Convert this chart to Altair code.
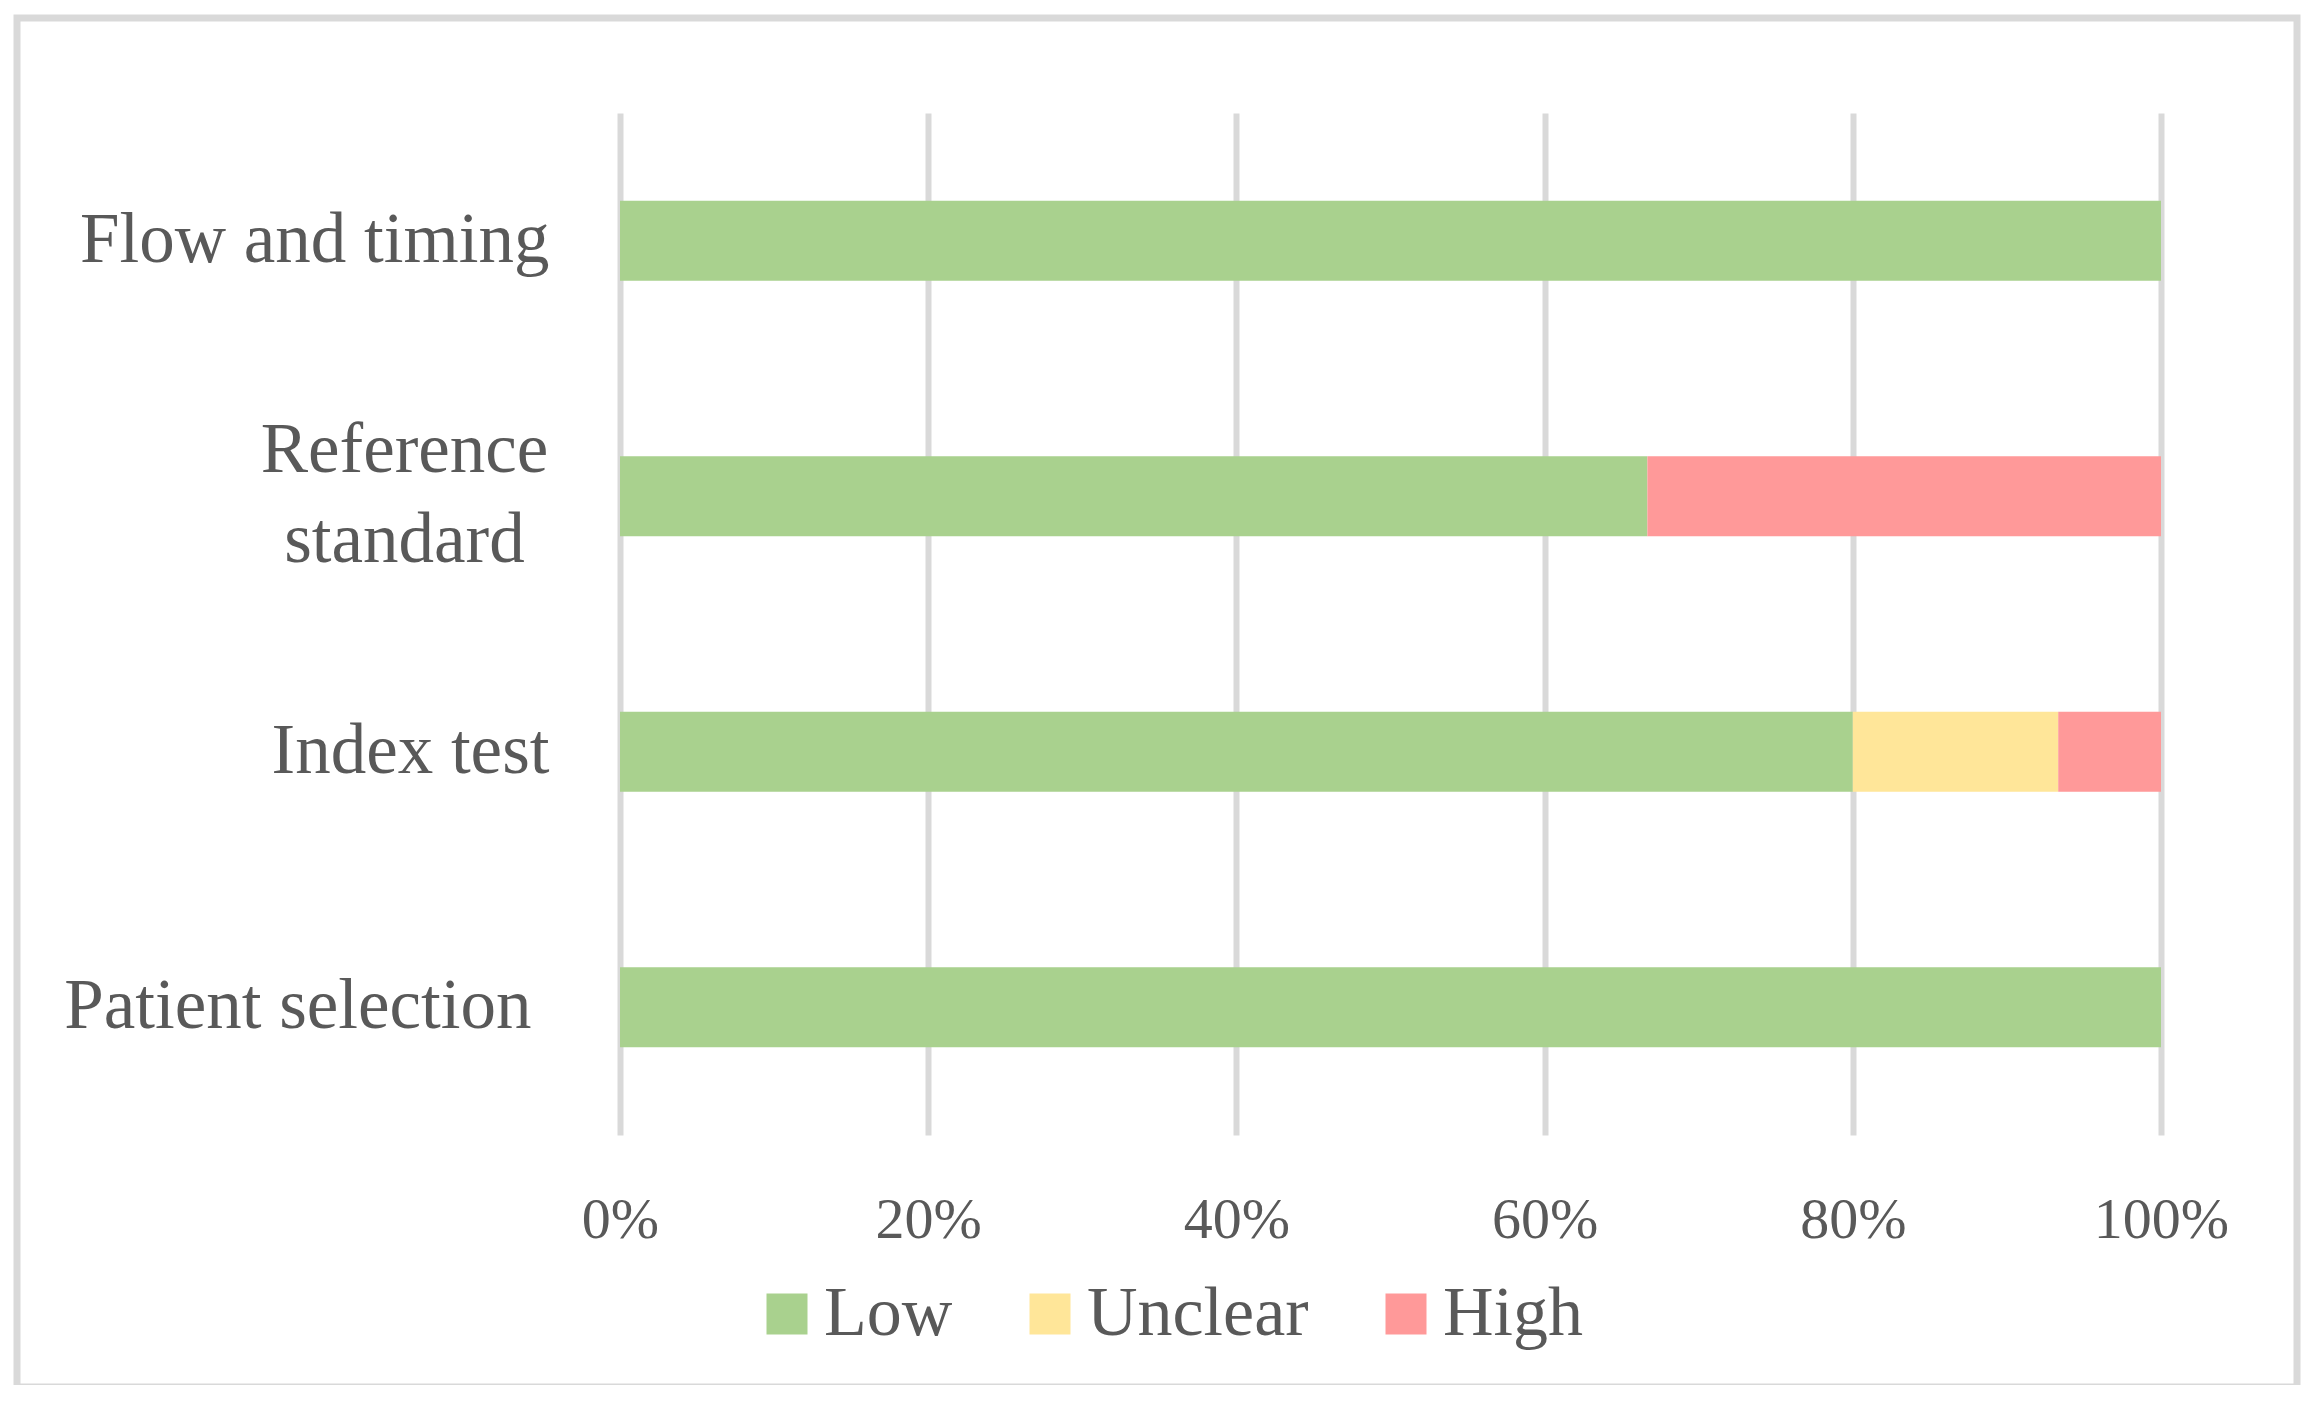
import altair as alt
import pandas as pd

domains = ["Flow and timing", "Reference standard", "Index test", "Patient selection"]
levels = ["Low", "Unclear", "High"]
low = [1.0, 0.6667, 0.80, 1.0]
unclear = [0.0, 0.0, 0.1333, 0.0]
high = [0.0, 0.3333, 0.0667, 0.0]
colors = ["#A9D18E", "#FFE699", "#FF9999"]
x_ticks = [0, 0.2, 0.4, 0.6, 0.8, 1.0]

rows = []
for i, d in enumerate(domains):
    for j, (lv, vals) in enumerate(zip(levels, [low, unclear, high])):
        rows.append({"domain": d, "level": lv, "value": vals[i], "order": j})
df = pd.DataFrame(rows)

FONT = "Liberation Serif"
TXT = "#595959"

label_expr = "datum.label == 'Reference standard' ? ['Reference', 'standard'] : datum.label"
is_ref = "datum.value == 'Reference standard'"
is_pat = "datum.value == 'Patient selection'"

bars = alt.Chart(df).mark_bar().encode(
    y=alt.Y(
        "domain:N",
        sort=domains,
        scale=alt.Scale(paddingInner=0.687, paddingOuter=0.3435),
        axis=alt.Axis(
            title=None, domain=False, ticks=False, grid=False,
            labelFont=FONT, labelFontSize=71, labelColor=TXT,
            labelPadding={"condition": [{"test": is_ref, "value": 216},
                                        {"test": is_pat, "value": 89}],
                          "value": 71},
            labelAlign={"condition": {"test": is_ref, "value": "center"},
                        "value": "right"},
            labelOffset={"condition": {"test": is_ref, "value": -45}, "value": 0},
            labelLineHeight=90,
            labelExpr=label_expr, labelLimit=1000,
        ),
    ),
    x=alt.X(
        "value:Q",
        stack="zero",
        scale=alt.Scale(domain=[0, 1], nice=False),
        axis=alt.Axis(
            title=None, domain=False, ticks=False, tickSize=0,
            grid=True, gridColor="#D9D9D9", gridWidth=6,
            values=x_ticks, format=".0%", labelFlush=False,
            labelFont=FONT, labelFontSize=58, labelColor=TXT,
            labelPadding=102, labelBaseline="alphabetic",
        ),
    ),
    color=alt.Color(
        "level:N",
        sort=levels,
        scale=alt.Scale(domain=levels, range=colors),
        legend=alt.Legend(
            title=None, orient="none", direction="horizontal",
            legendX=132, legendY=1166, padding=0,
            symbolType="square", symbolSize=1681, symbolStrokeWidth=0,
            labelFont=FONT, labelFontSize=70, labelColor=TXT,
            labelOffset=2, columnPadding=62, symbolOpacity=1, labelLimit=1000,
        ),
    ),
    order=alt.Order("order:Q"),
)

frame = alt.Chart(pd.DataFrame({"k": [0]})).mark_rect(
    filled=False, stroke="#D9D9D9", strokeWidth=7
).encode(
    x=alt.value(-603), x2=alt.value(1677),
    y=alt.value(-95), y2=alt.value(1274),
)

chart = alt.layer(frame, bars).properties(
    width=1541, height=1022,
    autosize=alt.AutoSizeParams(type="none"),
    padding={"left": 612, "top": 105, "right": 140, "bottom": 250},
).configure(background="white").configure_view(stroke="transparent", strokeWidth=0)

chart.save("out.html", embed_options={"renderer": "svg", "actions": False})
